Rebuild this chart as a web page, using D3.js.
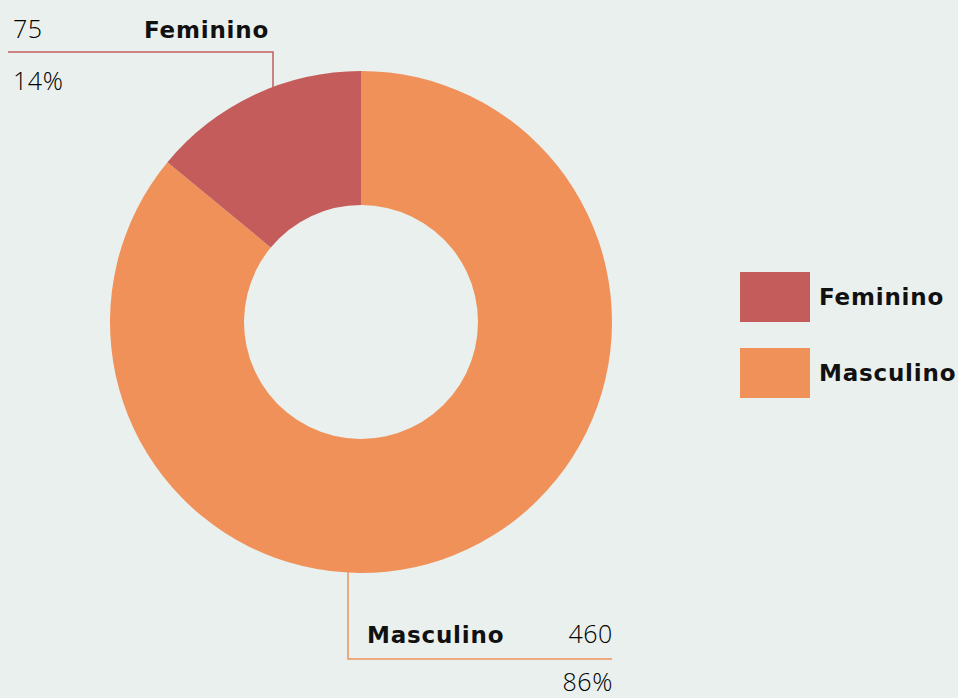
<!DOCTYPE html>
<html>
<head>
<meta charset="utf-8">
<script src="https://cdn.jsdelivr.net/npm/d3@7"></script>
<style>
  body { margin: 0; background: #eaf0ed; }
  svg { display: block; }
</style>
</head>
<body>
<div class="donut_area"></div>
<script>
// data
var categories = ["Feminino", "Masculino"];
var values = [75, 460];
var percents = ["14%", "86%"];
var colorsList = ["#c45c5c", "#f0915a"];

var width = 958, height = 698;
var cx = 361, cy = 322, outerR = 251, innerR = 117;

var svg = d3.select(".donut_area").append("svg")
  .attr("width", width)
  .attr("height", height);

svg.append("rect").attr("width", width).attr("height", height).attr("fill", "#eaf0ed");

var color = d3.scaleOrdinal().domain(categories).range(colorsList);

var data = categories.map(function (c, i) {
  return {name: c, value: values[i], pct: percents[i]};
});

// Masculino clockwise from top, Feminino closes the ring
var pie = d3.pie()
  .sort(null)
  .value(function (d) { return d.value; })
  .startAngle(0)
  .endAngle(2 * Math.PI);

var order = [data[1], data[0]];
var arcs = pie(order);

var arc = d3.arc().innerRadius(innerR).outerRadius(outerR);

var g = svg.append("g").attr("transform", "translate(" + cx + "," + cy + ")");

g.selectAll("path")
  .data(arcs)
  .enter().append("path")
  .attr("d", arc)
  .attr("fill", function (d) { return color(d.data.name); });

// labels with leader lines
var fontReg = "'Open Sans', sans-serif";
var fontBold = "'DejaVu Sans', sans-serif";

function boldText(sel) {
  return sel.attr("font-family", fontBold).attr("font-size", 23)
    .attr("font-weight", "bold").attr("letter-spacing", 0.8).attr("fill", "#111");
}
function regText(sel) {
  return sel.attr("font-family", fontReg).attr("font-size", 25)
    .attr("font-weight", 300).attr("letter-spacing", 0.6).attr("fill", "#000");
}

function yOnCircle(x, sign) {
  var dx = x - cx;
  return cy + sign * Math.sqrt(outerR * outerR - dx * dx);
}

// Feminino (top-left)
var fx = 273, fy = 52;
svg.append("path")
  .attr("d", "M8," + fy + "H" + fx + "V" + (yOnCircle(fx, -1) + 2))
  .attr("fill", "none")
  .attr("stroke", color("Feminino"))
  .attr("stroke-width", 1.5);

regText(svg.append("text").attr("x", 13).attr("y", 38)).text(values[0]);
boldText(svg.append("text").attr("x", 144).attr("y", 38)).text(categories[0]);
regText(svg.append("text").attr("x", 13).attr("y", 90)).text(percents[0]);

// Masculino (bottom)
var mx = 348, my = 659;
svg.append("path")
  .attr("d", "M" + mx + "," + (yOnCircle(mx, 1) - 2) + "V" + my + "H612")
  .attr("fill", "none")
  .attr("stroke", color("Masculino"))
  .attr("stroke-width", 1.5);

boldText(svg.append("text").attr("x", 367).attr("y", 643)).text(categories[1]);
regText(svg.append("text").attr("x", 613).attr("y", 643).attr("text-anchor", "end")).text(values[1]);
regText(svg.append("text").attr("x", 613).attr("y", 691).attr("text-anchor", "end")).text(percents[1]);

// legend
var legend = svg.append("g").attr("transform", "translate(740,272)");
var ly = d3.scaleBand().domain(categories).range([0, 126]).paddingInner(26 / 76).paddingOuter(0);

legend.selectAll("rect")
  .data(categories)
  .enter().append("rect")
  .attr("x", 0)
  .attr("y", function (d) { return ly(d); })
  .attr("width", 70)
  .attr("height", ly.bandwidth())
  .attr("fill", function (d) { return color(d); });

boldText(legend.selectAll("text")
  .data(categories)
  .enter().append("text")
  .attr("x", 79)
  .attr("y", function (d) { return ly(d) + ly.bandwidth() / 2; })
  .attr("dy", "0.35em"))
  .text(function (d) { return d; });
</script>
</body>
</html>
